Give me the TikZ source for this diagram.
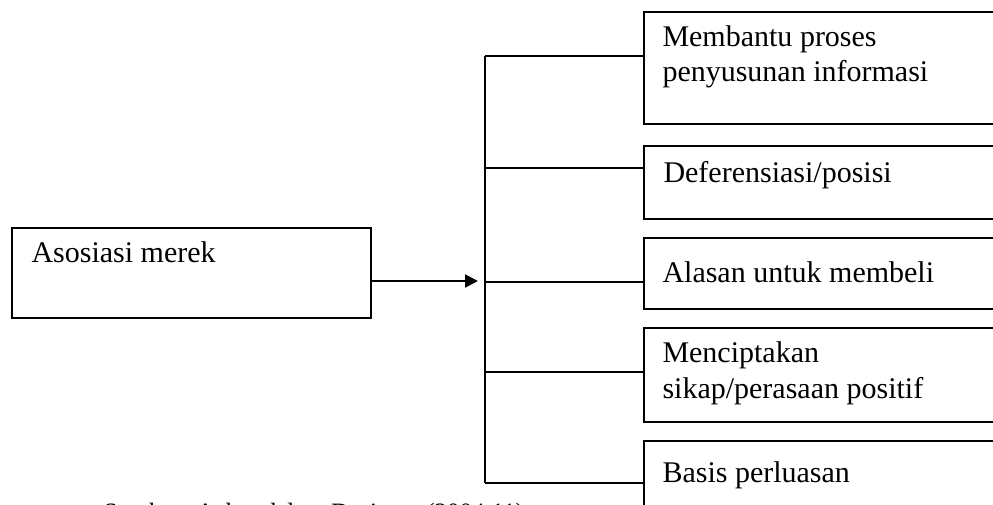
\documentclass[tikz,border=0pt]{standalone}
\usepackage{fontspec}
\setmainfont{Liberation Serif}
\usetikzlibrary{arrows.meta}

\tikzset{
  boxnode/.style={draw, line width=0.8pt, rectangle, anchor=north west, inner sep=0pt},
  txtnode/.style={anchor=base west, inner sep=0pt, align=left, font=\fontsize{12}{14}\selectfont},
  linkline/.style={line width=0.8pt},
}

\begin{document}
\begin{tikzpicture}[x=0.4pt,y=0.4pt,yscale=-1,xscale=1]
\useasboundingbox (0,0) rectangle (993,505);
\clip (0,0) rectangle (993,505);

%Shape: Rectangle
\node [boxnode, minimum width=143.6pt, minimum height=36pt] (asosiasi) at (11,227) {};
%Shape: Rectangle
\node [boxnode, minimum width=142.8pt, minimum height=44.8pt] (bantu) at (643,11) {};
%Shape: Rectangle
\node [boxnode, minimum width=142.8pt, minimum height=29.2pt] (posisi) at (643,145) {};
%Shape: Rectangle
\node [boxnode, minimum width=142.8pt, minimum height=28.4pt] (alasan) at (643,237) {};
%Shape: Rectangle
\node [boxnode, minimum width=142.8pt, minimum height=37.6pt] (sikap) at (643,327) {};
%Shape: Rectangle
\node [boxnode, minimum width=142.8pt, minimum height=32pt] (basis) at (643,440) {};

% Text Node
\node [txtnode] (tasosiasi) at (31,263) {Asosiasi merek};
% Text Node (base = last line)
\node [txtnode] (tbantu) at (662,82) {Membantu proses\\penyusunan informasi};
% Text Node
\node [txtnode] (tposisi) at (663,183) {Deferensiasi/posisi};
% Text Node
\node [txtnode] (talasan) at (662,283) {Alasan untuk membeli};
% Text Node (base = last line)
\node [txtnode] (tsikap) at (662,398) {Menciptakan\\sikap/perasaan positif};
% Text Node
\node [txtnode] (tbasis) at (662,482) {Basis perluasan};
% Text Node
\node [txtnode, font=\fontsize{10}{12}\selectfont] (sumber) at (103,520) {Sumber: Aaker dalam Durianto (2004:11)};

\coordinate (t1) at (485,56);
\coordinate (t2) at (485,168);
\coordinate (t3) at (485,282);
\coordinate (t4) at (485,372);
\coordinate (t5) at (485,483);
\coordinate (tip) at (478,281);

%Straight Lines
\draw [linkline] (t1) -- (t5);
\draw [linkline] (t1) -- (t1 -| bantu.west);
\draw [linkline] (t2) -- (t2 -| posisi.west);
\draw [linkline] (t3) -- (t3 -| alasan.west);
\draw [linkline] (t4) -- (t4 -| sikap.west);
\draw [linkline] (t5) -- (t5 -| basis.west);
%Straight Lines
\draw [linkline, -{Triangle[length=5.2pt,width=5.2pt]}] (tip -| asosiasi.east) -- (tip);

\end{tikzpicture}
\end{document}
